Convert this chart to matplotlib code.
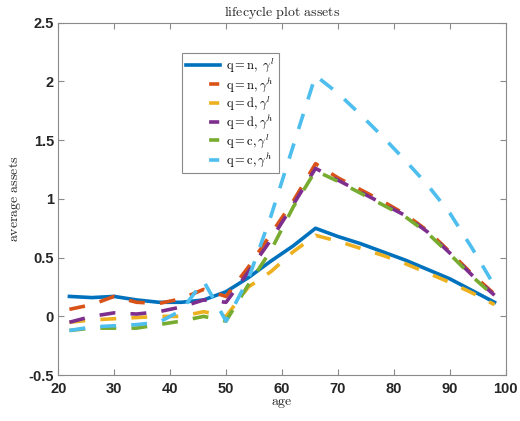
import numpy as np
import matplotlib
matplotlib.use("Agg")
import matplotlib.pyplot as plt

plt.rcParams['mathtext.fontset'] = 'cm'

# ages (4-year model periods)
ages = np.arange(22, 99, 4)

# average assets per group
q_n_low = [0.17, 0.16, 0.17, 0.14, 0.12, 0.12, 0.14, 0.21, 0.33, 0.47,
           0.60, 0.75, 0.68, 0.62, 0.55, 0.48, 0.40, 0.32, 0.22, 0.12]
q_n_high = [0.06, 0.10, 0.17, 0.12, 0.11, 0.15, 0.23, 0.17, 0.42, 0.70,
            0.98, 1.30, 1.18, 1.08, 0.98, 0.87, 0.73, 0.55, 0.36, 0.19]
q_d_low = [-0.05, -0.03, -0.02, -0.01, 0.00, 0.00, 0.04, 0.00, 0.25, 0.38,
           0.55, 0.69, 0.64, 0.58, 0.52, 0.45, 0.37, 0.29, 0.20, 0.10]
q_d_high = [-0.05, 0.00, 0.03, 0.02, 0.04, 0.08, 0.14, 0.12, 0.38, 0.65,
            0.95, 1.26, 1.16, 1.06, 0.96, 0.86, 0.72, 0.54, 0.35, 0.18]
q_c_low = [-0.12, -0.10, -0.10, -0.10, -0.07, -0.04, 0.00, -0.04, 0.27, 0.56,
           0.93, 1.24, 1.15, 1.05, 0.95, 0.85, 0.71, 0.53, 0.34, 0.17]
q_c_high = [-0.12, -0.09, -0.08, -0.07, -0.05, 0.05, 0.30, -0.04, 0.32, 0.85,
            1.45, 2.05, 1.90, 1.72, 1.53, 1.33, 1.12, 0.88, 0.58, 0.26]

labels = [r'$\mathrm{q{=}n,}\ \gamma^l$', r'$\mathrm{q{=}n,}\gamma^h$',
          r'$\mathrm{q{=}d,}\gamma^l$', r'$\mathrm{q{=}d,}\gamma^h$',
          r'$\mathrm{q{=}c,}\gamma^l$', r'$\mathrm{q{=}c,}\gamma^h$']
series = [q_n_low, q_n_high, q_d_low, q_d_high, q_c_low, q_c_high]
colors = ['#0072BD', '#D95319', '#EDB120', '#7E2F8E', '#77AC30', '#4DBEEE']

lw = 2.6
dash = (4.4, 4.2)

fig = plt.figure(figsize=(5.2, 4.21), dpi=100)
ax = fig.add_axes([0.112, 0.109, 0.8605, 0.837])

for i, (vals, lab, col) in enumerate(zip(series, labels, colors)):
    if i == 0:
        ax.plot(ages, vals, color=col, lw=lw, label=lab)
    else:
        ax.plot(ages, vals, color=col, lw=lw, linestyle=(0, dash), label=lab)

ax.set_xlim(20, 100)
ax.set_ylim(-0.5, 2.5)
ax.set_xticks(np.arange(20, 101, 10))
ax.set_yticks(np.arange(-0.5, 2.51, 0.5))
ax.set_yticklabels(['-0.5', '0', '0.5', '1', '1.5', '2', '2.5'])

for s in ax.spines.values():
    s.set_color('#8a8a8a')
    s.set_linewidth(0.8)
ax.tick_params(direction='in', length=4, width=0.8, color='#8a8a8a',
               top=True, right=True, labelsize=10.5, labelcolor='#262626')
ax.tick_params(axis='x', pad=5)
ax.tick_params(axis='y', pad=3)
for t in ax.get_xticklabels() + ax.get_yticklabels():
    t.set_fontfamily('Liberation Sans')
    t.set_fontweight('bold')

ax.set_title(r'$\mathrm{lifecycle\ plot\ assets}$', fontsize=10, color='#262626', pad=5)
ax.set_xlabel(r'$\mathrm{age}$', fontsize=10, color='#262626', labelpad=0)
ax.set_ylabel(r'$\mathrm{average\ assets}$', fontsize=10, color='#262626', labelpad=4)

leg = ax.legend(loc='upper left', bbox_to_anchor=(0.276, 0.915), borderaxespad=0,
                fontsize=9, fancybox=False, framealpha=1, edgecolor='#8a8a8a',
                handlelength=2.7, handletextpad=0.5, labelspacing=0.1,
                borderpad=0.35)
leg.get_frame().set_linewidth(0.8)
for i, h in enumerate(leg.legend_handles):
    if i > 0:
        h.set_linestyle((dash[0] + 2.0, (2.8, 10)))

fig.savefig('out.png', dpi=100)
